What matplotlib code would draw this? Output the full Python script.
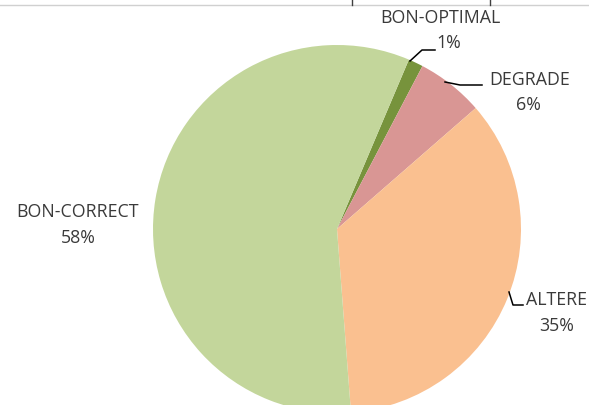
import matplotlib.pyplot as plt

# parts du graphique (sens horaire depuis le haut)
labels = ["BON-OPTIMAL", "DEGRADE", "ALTERE", "BON-CORRECT"]
values = [1.3, 5.9, 35.2, 57.6]
pct_labels = ["1%", "6%", "35%", "58%"]
colors = ["#77933C", "#D99694", "#FAC090", "#C3D69B"]

W, H = 589, 405
cx, cy, R = 337, 229, 184

fig = plt.figure(figsize=(W / 100, H / 100), dpi=100)
fig.patch.set_facecolor("white")

ax = fig.add_axes([(cx - R) / W, (H - cy - R) / H, 2 * R / W, 2 * R / H])
ax.pie(values, colors=colors, startangle=67, counterclock=False,
       wedgeprops=dict(linewidth=0))
ax.set_xlim(-1, 1)
ax.set_ylim(-1, 1)
ax.set_aspect("equal")
ax.axis("off")


def px(x, y):
    # pixel (haut-gauche) -> coordonnées données
    return ((x - cx) / R, (cy - y) / R)


font = dict(family="Open Sans", fontsize=12.8, color="#3a3a3a")

# étiquettes : nom puis pourcentage
name_pos = [(440, 18), (530, 80), (556, 300), (78, 212)]
pct_pos = [(449, 43), (528, 105), (557, 326), (78, 238)]
for lab, pct, (nx, ny), (qx, qy) in zip(labels, pct_labels, name_pos, pct_pos):
    ax.text(*px(nx, ny), lab, ha="center", va="center", clip_on=False, **font)
    ax.text(*px(qx, qy), pct, ha="center", va="center", clip_on=False, **font)

# lignes de rappel
leaders = [
    [(410, 61), (422, 50), (435, 50)],
    [(445, 82), (460, 85), (482, 85)],
    [(509, 292), (513, 305), (523, 305)],
]
for pts in leaders:
    xs, ys = zip(*[px(x, y) for x, y in pts])
    ax.plot(xs, ys, color="black", linewidth=1.1, clip_on=False)

# bord du tableau au-dessus (rogné)
fig.add_artist(plt.Line2D([0, 1], [1 - 5 / H, 1 - 5 / H], color="#d0d0d0", linewidth=1))
for x in [352, 490]:
    fig.add_artist(plt.Line2D([x / W, x / W], [1 - 5 / H, 1], color="#404040", linewidth=1))

fig.savefig("out.png", dpi=100, facecolor="white")
